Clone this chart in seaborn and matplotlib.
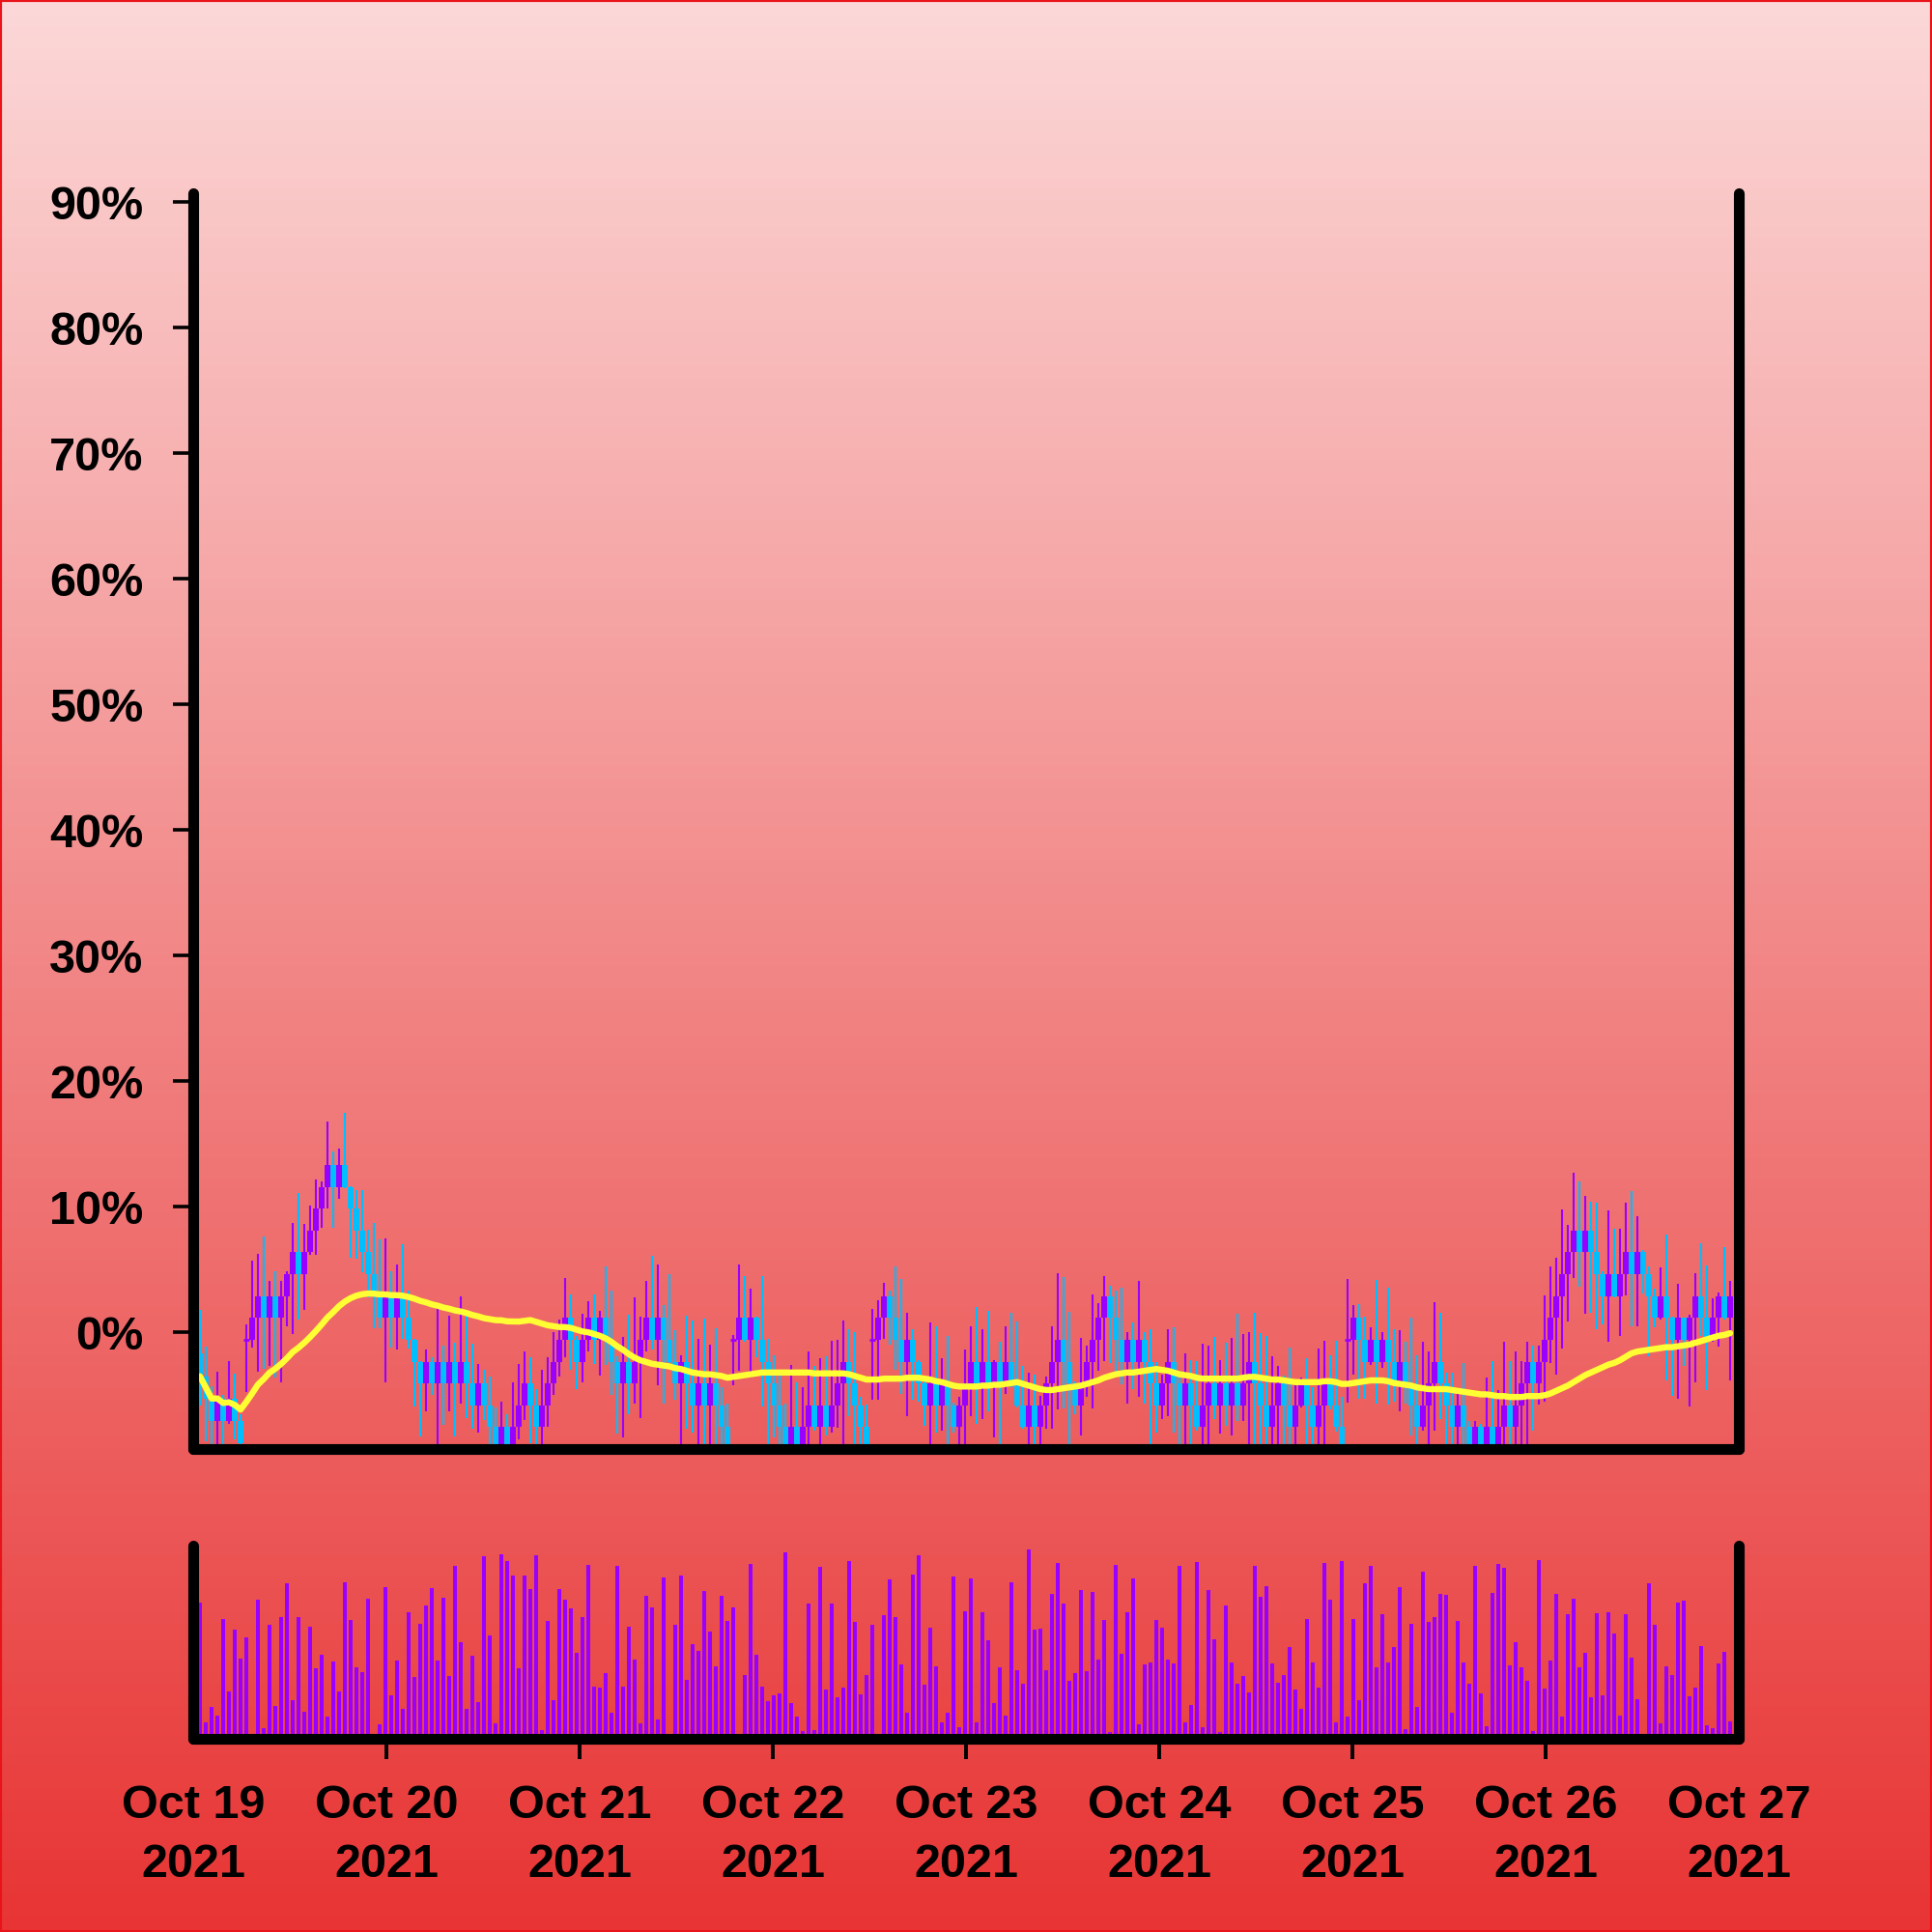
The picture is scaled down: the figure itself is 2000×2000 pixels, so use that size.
import numpy as np
import pandas as pd
import matplotlib
matplotlib.use("Agg")
import matplotlib.pyplot as plt
import matplotlib.dates as mdates
from matplotlib.patches import Rectangle
import seaborn as sns

sns.set_style("ticks")
plt.rcParams['font.family'] = ['Liberation Sans', 'DejaVu Sans']
plt.rcParams['font.weight'] = 'bold'

# ---------------- data (percent values) ----------------
open_ = [-1.70, -3.50, -5.26, -7.05, -5.26, -7.05, -5.26, -7.05, -0.59, -0.59,
         1.15, 2.89, 1.15, 2.89, 1.15, 2.89, 4.63, 6.37, 4.63, 6.37,
         8.11, 9.85, 11.59, 13.33, 11.59, 13.33, 11.59, 9.85, 8.11, 6.37,
         4.63, 2.89, 1.15, 2.89, 1.15, 2.89, 1.15, -0.59, -2.33, -4.07,
         -2.33, -4.07, -2.33, -4.07, -2.33, -4.07, -2.33, -4.07, -5.81, -4.07,
         -5.81, -7.55, -9.29, -7.55, -9.29, -7.55, -5.81, -4.07, -5.81, -7.55,
         -5.81, -4.07, -2.33, -0.59, 1.15, -0.59, -2.33, -0.59, 1.15, -0.59,
         1.15, -0.59, -2.33, -4.07, -2.33, -4.07, -2.33, -0.59, 1.15, -0.59,
         1.15, -0.59, -2.33, -4.07, -2.33, -4.07, -5.81, -4.07, -5.81, -4.07,
         -5.81, -7.55, -0.59, -0.59, 1.15, -0.59, 1.15, -0.59, -2.33, -4.07,
         -5.81, -7.55, -9.29, -7.55, -9.29, -7.55, -5.81, -7.55, -5.81, -7.55,
         -5.81, -4.07, -2.33, -4.07, -5.81, -7.55, -0.59, -0.59, 1.15, 2.89,
         1.15, -0.59, -2.33, -0.59, -2.33, -4.07, -5.81, -4.07, -5.81, -4.07,
         -5.81, -7.55, -5.81, -4.07, -2.33, -4.07, -2.33, -4.07, -2.33, -4.07,
         -2.33, -4.07, -5.81, -7.55, -5.81, -7.55, -5.81, -4.07, -2.33, -0.59,
         -2.33, -4.07, -5.81, -4.07, -2.33, -0.59, 1.15, 2.89, 1.15, -0.59,
         -2.33, -0.59, -2.33, -0.59, -2.33, -4.07, -5.81, -4.07, -2.33, -4.07,
         -5.81, -4.07, -5.81, -7.55, -5.81, -4.07, -5.81, -4.07, -5.81, -4.07,
         -5.81, -4.07, -2.33, -4.07, -5.81, -7.55, -5.81, -4.07, -5.81, -7.55,
         -5.81, -4.07, -5.81, -7.55, -5.81, -4.07, -5.81, -7.55, -0.59, -0.59,
         1.15, -0.59, -2.33, -0.59, -2.33, -0.59, -2.33, -4.07, -2.33, -4.07,
         -5.81, -7.55, -5.81, -4.07, -2.33, -4.07, -5.81, -7.55, -5.81, -7.55,
         -9.29, -7.55, -9.29, -7.55, -9.29, -7.55, -5.81, -7.55, -5.81, -4.07,
         -2.33, -4.07, -2.33, -0.59, 1.15, 2.89, 4.63, 6.37, 8.11, 6.37,
         8.11, 6.37, 4.63, 2.89, 4.63, 2.89, 4.63, 6.37, 4.63, 6.37,
         4.63, 2.89, 1.15, 2.89, 1.15, -0.59, 1.15, -0.59, 1.15, 2.89,
         1.15, -0.59, 1.15, 2.89, 1.15]

close = [-3.50, -5.26, -7.05, -5.26, -7.05, -5.26, -7.05, -8.80, -0.59, 1.15,
         2.89, 1.15, 2.89, 1.15, 2.89, 4.63, 6.37, 4.63, 6.37, 8.11,
         9.85, 11.59, 13.33, 11.59, 13.33, 11.59, 9.85, 8.11, 6.37, 4.63,
         2.89, 1.15, 2.89, 1.15, 2.89, 1.15, -0.59, -2.33, -4.07, -2.33,
         -4.07, -2.33, -4.07, -2.33, -4.07, -2.33, -4.07, -5.81, -4.07, -5.81,
         -7.55, -9.29, -7.55, -9.29, -7.55, -5.81, -4.07, -5.81, -7.55, -5.81,
         -4.07, -2.33, -0.59, 1.15, -0.59, -2.33, -0.59, 1.15, -0.59, 1.15,
         -0.59, -2.33, -4.07, -2.33, -4.07, -2.33, -0.59, 1.15, -0.59, 1.15,
         -0.59, -2.33, -4.07, -2.33, -4.07, -5.81, -4.07, -5.81, -4.07, -5.81,
         -7.55, -9.29, -0.59, 1.15, -0.59, 1.15, -0.59, -2.33, -4.07, -5.81,
         -7.55, -9.29, -7.55, -9.29, -7.55, -5.81, -7.55, -5.81, -7.55, -5.81,
         -4.07, -2.33, -4.07, -5.81, -7.55, -9.29, -0.59, 1.15, 2.89, 1.15,
         -0.59, -2.33, -0.59, -2.33, -4.07, -5.81, -4.07, -5.81, -4.07, -5.81,
         -7.55, -5.81, -4.07, -2.33, -4.07, -2.33, -4.07, -2.33, -4.07, -2.33,
         -4.07, -5.81, -7.55, -5.81, -7.55, -5.81, -4.07, -2.33, -0.59, -2.33,
         -4.07, -5.81, -4.07, -2.33, -0.59, 1.15, 2.89, 1.15, -0.59, -2.33,
         -0.59, -2.33, -0.59, -2.33, -4.07, -5.81, -4.07, -2.33, -4.07, -5.81,
         -4.07, -5.81, -7.55, -5.81, -4.07, -5.81, -4.07, -5.81, -4.07, -5.81,
         -4.07, -2.33, -4.07, -5.81, -7.55, -5.81, -4.07, -5.81, -7.55, -5.81,
         -4.07, -5.81, -7.55, -5.81, -4.07, -5.81, -7.55, -9.29, -0.59, 1.15,
         -0.59, -2.33, -0.59, -2.33, -0.59, -2.33, -4.07, -2.33, -4.07, -5.81,
         -7.55, -5.81, -4.07, -2.33, -4.07, -5.81, -7.55, -5.81, -7.55, -9.29,
         -7.55, -9.29, -7.55, -9.29, -7.55, -5.81, -7.55, -5.81, -4.07, -2.33,
         -4.07, -2.33, -0.59, 1.15, 2.89, 4.63, 6.37, 8.11, 6.37, 8.11,
         6.37, 4.63, 2.89, 4.63, 2.89, 4.63, 6.37, 4.63, 6.37, 4.63,
         2.89, 1.15, 2.89, 1.15, -0.59, 1.15, -0.59, 1.15, 2.89, 1.15,
         -0.59, 1.15, 2.89, 1.15, 2.89]

high = [1.8, -1.1, -4.3, -3.1, -5.0, -2.3, -3.3, -6.5, 0.64, 5.7,
        6.25, 7.6, 4.1, 4.9, 4.1, 4.9, 8.7, 11.1, 8.6, 10.1,
        12.2, 12.0, 16.8, 14.4, 14.6, 17.5, 11.6, 11.3, 11.3, 8.2,
        8.7, 7.4, 7.5, 4.9, 5.4, 7.0, 3.3, -0.5, -2.3, -1.4,
        -2.0, 2.3, -1.05, 1.3, -0.8, 2.9, 1.3, -0.9, -2.5, -3.0,
        -3.5, -6.0, -5.5, -6.5, -4.0, -2.5, -1.5, -2.0, -4.5, -3.0,
        -2.0, 0.0, 1.0, 4.3, 3.0, -0.3, 1.5, 2.5, 3.0, 1.74,
        5.25, 3.33, -1.9, -0.39, 1.41, 2.82, 1.23, 4.1, 6.1, 5.4,
        2.18, 4.6, 0.2, -1.85, 1.33, 0.97, -0.51, 1.08, -0.98, 0.3,
        -4.36, -5.64, -0.2, 5.4, 4.5, 3.46, 1.23, 4.5, -0.51, -1.85,
        -3.33, -5.64, -2.56, -3.97, -4.36, -1.49, -2.69, -2.05, -1.92, -0.64,
        -0.56, 0.97, 0.26, 0.0, -5.13, -5.77, 1.85, 2.56, 3.97, 3.33,
        5.25, 4.23, 1.54, 0.26, -2.2, -3.9, 0.82, 0.51, -2.05, -0.26,
        -5.6, -5.13, -1.33, 0.46, 2.05, 0.26, 1.74, -2.18, -0.77, 0.51,
        1.59, 0.9, -2.69, -3.21, -3.33, -5.05, -3.54, 0.51, 4.74, 4.41,
        1.67, -3.9, -0.46, -1.08, 3.0, 2.3, 4.49, 3.72, 3.33, 3.54,
        0.0, 0.82, 4.1, 0.05, 0.26, -2.36, -3.33, 0.26, 0.38, -3.08,
        -1.67, -2.18, -2.26, -0.9, -1.03, -0.39, -2.18, -0.82, -0.46, 1.49,
        -0.13, 0.05, 1.59, -0.05, -0.26, -1.92, -2.69, -3.46, -1.23, -4.1,
        -3.59, -2.05, -4.36, -1.28, -0.64, -1.8, -0.64, -5.13, 4.23, 2.18,
        2.26, 1.28, 0.38, 4.15, 0.0, 3.59, 0.26, 0.2, -0.75, 1.15,
        -1.8, -0.77, -1.49, 2.44, 1.54, -3.21, -3.21, -4.74, -2.44, -7.05,
        -7.05, -7.31, -3.59, -2.31, -4.62, -0.72, -2.31, -1.54, -2.31, -0.77,
        -1.03, -1.03, 2.95, 5.28, 5.95, 9.79, 8.59, 12.69, 12.05, 10.9,
        10.43, 10.31, 4.87, 9.69, 8.26, 8.26, 10.31, 11.23, 9.28, 6.54,
        5.26, 3.46, 5.18, 7.82, 1.28, 3.85, 1.03, 1.41, 4.74, 7.13,
        5.33, 2.69, 3.2, 6.79, 4.1]

low = [-5.8, -8.7, -9.5, -9.5, -9.5, -7.3, -8.5, -10.5, -4.74, -1.2,
       -3.1, -2.9, -2.7, -3.6, -4.0, 0.5, -0.15, 1.0, 1.8, 6.2,
       6.2, 8.3, 9.9, 8.3, 10.6, 11.5, 5.95, 5.9, 4.75, 2.8,
       0.3, 0.3, -4.0, -1.2, -1.4, -0.5, -1.3, -5.9, -8.3, -6.3,
       -5.0, -9.5, -7.4, -6.3, -8.3, -5.7, -6.8, -7.7, -8.0, -7.0,
       -9.5, -10.5, -10.5, -10.5, -10.5, -8.5, -7.0, -8.8, -10.5, -9.0,
       -7.5, -5.0, -3.5, -2.0, -3.0, -4.5, -4.0, -1.5, -2.5, -3.46,
       -2.56, -5.0, -8.08, -8.33, -6.54, -5.64, -6.8, -1.54, -1.4, -4.23,
       -5.64, -2.6, -5.4, -10.5, -7.7, -7.95, -10.5, -10.5, -10.5, -10.5,
       -10.5, -10.5, -4.2, -3.08, -0.77, -3.59, -2.0, -5.9, -10.5, -8.33,
       -10.5, -10.5, -10.5, -10.5, -10.5, -10.5, -7.8, -10.5, -8.2, -7.95,
       -7.56, -10.5, -6.67, -10.5, -10.5, -10.5, -5.38, -5.38, -0.51, -1.0,
       -3.0, -4.87, -6.67, -5.38, -5.5, -7.44, -10.5, -7.95, -7.82, -10.5,
       -8.0, -10.5, -10.5, -6.67, -7.3, -6.92, -6.3, -8.33, -10.5, -4.87,
       -4.36, -6.0, -7.7, -10.5, -10.5, -10.5, -7.7, -7.7, -6.15, -6.03,
       -10.5, -6.54, -8.2, -5.13, -6.03, -3.08, -2.31, -2.44, -3.5, -4.1,
       -5.64, -4.5, -5.13, -5.64, -10.5, -7.95, -6.92, -6.67, -7.95, -10.5,
       -10.5, -10.5, -7.8, -10.5, -10.5, -6.92, -8.08, -7.44, -8.2, -7.05,
       -7.05, -10.5, -10.5, -10.5, -10.5, -10.5, -10.5, -10.5, -10.5, -10.5,
       -6.0, -10.5, -10.5, -10.5, -10.5, -6.15, -7.9, -10.5, -5.59, -3.33,
       -5.26, -5.26, -2.56, -5.64, -2.82, -5.77, -5.5, -6.28, -5.7, -8.2,
       -10.5, -7.8, -10.5, -7.82, -6.92, -10.5, -10.5, -10.5, -10.5, -10.5,
       -10.5, -10.5, -10.5, -10.5, -10.5, -10.5, -10.5, -10.5, -10.5, -10.5,
       -7.82, -5.77, -5.51, -2.44, -3.33, -1.28, 0.9, 4.36, 3.64, 1.49,
       1.54, 0.26, 0.64, -0.77, 2.82, -0.26, 2.95, 0.51, 0.46, 3.08,
       -1.92, 0.38, 1.03, -3.8, -5.08, -5.26, -2.69, -5.9, -3.97, -0.26,
       -4.62, -0.77, -1.15, 1.03, -3.85]

# volume, as a share of the volume panel height
volume = [70.7, 8.3, 16.7, 12.2, 62.2, 24.7, 56.7, 41.7, 52.5, 0,
          72.0, 5.5, 59.2, 17.2, 63.2, 80.5, 20.2, 63.2, 14.2, 58.0,
          36.7, 43.7, 11.3, 40.2, 24.5, 80.8, 61.7, 37.0, 34.5, 72.3,
          0, 7.7, 78.5, 22.7, 40.7, 15.3, 65.7, 32.2, 59.7, 69.2,
          78.0, 40.7, 73.2, 32.7, 89.7, 50.2, 15.7, 43.2, 19.0, 94.7,
          53.5, 8.0, 95.7, 92.0, 84.5, 36.7, 84.7, 77.7, 95.0, 4.5,
          61.2, 20.2, 77.7, 72.2, 67.3, 44.7, 63.2, 90.2, 27.2, 26.7,
          34.2, 13.3, 89.7, 27.2, 57.8, 41.0, 7.8, 74.0, 68.2, 10.2,
          83.7, 0, 59.2, 84.7, 30.3, 49.2, 45.5, 76.7, 55.7, 37.7,
          74.0, 61.0, 68.2, 0, 33.0, 90.7, 43.3, 27.2, 19.7, 22.5,
          23.5, 96.7, 18.5, 11.7, 4.2, 70.2, 4.3, 89.0, 25.3, 70.2,
          21.5, 26.7, 91.8, 60.5, 23.2, 32.8, 59.2, 0, 64.0, 82.5,
          63.2, 38.7, 13.5, 85.2, 95.2, 28.2, 57.3, 37.7, 8.7, 13.5,
          84.2, 6.0, 65.8, 83.2, 8.7, 65.7, 50.8, 18.7, 37.0, 12.2,
          81.2, 35.7, 28.7, 97.8, 56.7, 57.2, 35.5, 75.2, 91.0, 70.2,
          30.2, 34.2, 77.0, 35.0, 76.0, 41.2, 61.7, 3.7, 90.2, 44.0,
          65.3, 83.2, 7.7, 38.3, 39.7, 61.7, 57.7, 41.2, 39.2, 89.7,
          8.5, 17.7, 91.7, 5.8, 77.2, 51.7, 3.7, 69.0, 39.5, 28.7,
          32.3, 23.8, 89.5, 73.5, 79.2, 39.2, 29.2, 33.2, 47.3, 25.3,
          15.5, 62.2, 39.7, 26.7, 91.2, 71.8, 8.5, 92.2, 11.3, 61.8,
          20.0, 80.5, 89.7, 36.8, 64.7, 39.7, 47.5, 78.5, 5.0, 59.7,
          16.5, 86.7, 60.7, 63.2, 75.2, 74.5, 13.5, 61.2, 39.5, 28.5,
          89.5, 23.7, 6.5, 75.7, 90.7, 88.7, 38.0, 50.2, 37.2, 30.0,
          4.0, 92.3, 26.2, 40.7, 74.8, 11.7, 64.7, 72.5, 37.2, 44.7,
          21.7, 65.0, 22.3, 65.7, 54.7, 12.0, 64.5, 42.2, 20.5, 0,
          80.3, 59.2, 8.0, 37.7, 33.2, 70.7, 71.5, 21.8, 26.7, 48.2,
          7.2, 5.7, 39.2, 45.0, 9.2]

day_ticks = ["2021-10-19", "2021-10-20", "2021-10-21", "2021-10-22", "2021-10-23",
             "2021-10-24", "2021-10-25", "2021-10-26", "2021-10-27"]
day_labels = ["Oct 19\n2021", "Oct 20\n2021", "Oct 21\n2021", "Oct 22\n2021", "Oct 23\n2021",
              "Oct 24\n2021", "Oct 25\n2021", "Oct 26\n2021", "Oct 27\n2021"]
pct_ticks = [0, 10, 20, 30, 40, 50, 60, 70, 80, 90]
pct_labels = ["0%", "10%", "20%", "30%", "40%", "50%", "60%", "70%", "80%", "90%"]

# ---------------- frame ----------------
times = pd.date_range("2021-10-19 00:50:24", periods=len(close), freq="2592s")
df = pd.DataFrame({"time": times, "open": open_, "high": high, "low": low,
                   "close": close, "volume": volume})
df["ma"] = df["close"].rolling(50, min_periods=1).mean()
xn = mdates.date2num(df["time"])
step = 2592 / 86400.0

PURPLE = "#9900ff"
CYAN = "#00bfff"
YELLOW = "#ffff33"

fig = plt.figure(figsize=(20, 20), dpi=100)

# background gradient
bg = fig.add_axes([0, 0, 1, 1], zorder=-10)
top = np.array([252, 216, 216]) / 255.0
bot = np.array([232, 52, 52]) / 255.0
t = np.linspace(0, 1, 512)[:, None, None]
grad = top * (1 - t) + bot * t
bg.imshow(grad, aspect="auto", extent=[0, 1, 0, 1])
bg.set_axis_off()

ax = fig.add_axes([0.1, 0.25, 0.8, 0.65])
vax = fig.add_axes([0.1, 0.10, 0.8, 0.10])
for a in (ax, vax):
    a.set_facecolor("none")

o = df["open"].to_numpy()
c = df["close"].to_numpy()
colors = np.where(c >= o, PURPLE, CYAN)
doji = np.isclose(o, c)
body = ~doji

ax.vlines(xn, df["low"], df["high"], colors=colors, lw=1.5, zorder=2)
ax.bar(xn[body], (c - o)[body], bottom=o[body], width=step * 1.0,
       color=colors[body], linewidth=0, zorder=3)
ax.hlines(o[doji], xn[doji] - step * 0.5, xn[doji] + step * 0.5,
          colors=PURPLE, lw=2, zorder=3)
sns.lineplot(x=xn, y=df["ma"].to_numpy(), ax=ax, color=YELLOW, lw=4.6,
             sort=False, estimator=None, zorder=4)

x0 = mdates.date2num(pd.Timestamp("2021-10-19"))
x1 = mdates.date2num(pd.Timestamp("2021-10-27"))
ax.set_xlim(x0, x1)
ax.set_ylim(-9.29, 90.71)
ax.set_yticks(pct_ticks)
ax.set_yticklabels(pct_labels)
ax.set_xticks([])
ax.tick_params(axis="y", length=15, width=2.6, pad=22, labelsize=35, colors="black")

vax.bar(xn, df["volume"], width=step * 0.65, color=PURPLE, linewidth=0, zorder=2)
vax.set_xlim(x0, x1)
vax.set_ylim(0, 100)
vax.set_yticks([])
vax.set_xticks(mdates.date2num(pd.to_datetime(day_ticks)))
vax.set_xticklabels(day_labels)
vax.tick_params(axis="x", length=15, width=2.8, pad=19, labelsize=35, colors="black")
xt = vax.xaxis.get_major_ticks()
xt[0].tick1line.set_visible(False)
xt[-1].tick1line.set_visible(False)

for a in (ax, vax):
    a.spines["top"].set_visible(False)
    for s in ("left", "right", "bottom"):
        sp = a.spines[s]
        sp.set_visible(True)
        sp.set_linewidth(8)
        sp.set_color("black")
        sp.set_capstyle("round")
        sp.set_zorder(5)
    for lab in a.get_xticklabels() + a.get_yticklabels():
        lab.set_fontweight("bold")
for lab in vax.get_xticklabels():
    lab.set_linespacing(1.45)

fig.add_artist(Rectangle((0, 0), 1, 1, transform=fig.transFigure, fill=False,
                         edgecolor="#e8141a", lw=3))

fig.savefig("out.png", dpi=100)
